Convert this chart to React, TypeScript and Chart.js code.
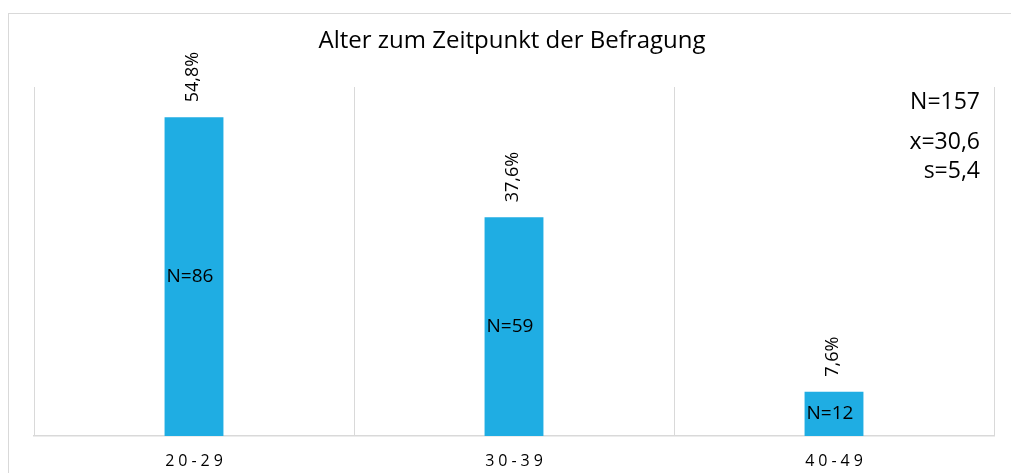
import React, { useEffect, useRef } from "react";
import { Chart, registerables } from "chart.js";

Chart.register(...registerables);

const categories = ["20-29", "30-39", "40-49"];
const percentages = [54.8, 37.6, 7.6];
const counts = [86, 59, 12];
const statsLines = ["N=157", "x=30,6", "s=5,4"];
const chartTitle = "Alter zum Zeitpunkt der Befragung";

const FONT = "'Open Sans', sans-serif";
const BAR_COLOR = "#1fade3";
const GRID_COLOR = "#d9d9d9";

const decorPlugin = {
  id: "decor",
  afterDraw(chart: any) {
    const ctx = chart.ctx as CanvasRenderingContext2D;
    const xScale = chart.scales.x;
    ctx.save();
    // outer border
    ctx.strokeStyle = GRID_COLOR;
    ctx.lineWidth = 1;
    ctx.strokeRect(0.5, 5.5, chart.width + 20, chart.height + 20);

    // title
    ctx.fillStyle = "#000";
    ctx.font = `24px ${FONT}`;
    ctx.textAlign = "center";
    ctx.textBaseline = "middle";
    ctx.fillText(chartTitle, 504, 33);

    // stats
    ctx.font = `23px ${FONT}`;
    ctx.textAlign = "right";
    const statY = [94, 134, 163];
    statsLines.forEach((s, i) => ctx.fillText(s, 972, statY[i]));

    // bar labels
    const meta = chart.getDatasetMeta(0);
    meta.data.forEach((bar: any, i: number) => {
      const x = bar.x;
      const top = bar.y;
      const bottom = bar.base;
      // rotated percent
      ctx.save();
      ctx.translate(x - 1, top - 15);
      ctx.rotate(-Math.PI / 2);
      ctx.font = `18px ${FONT}`;
      ctx.textAlign = "left";
      ctx.textBaseline = "middle";
      ctx.fillText(percentages[i].toFixed(1).replace(".", ",") + "%", 0, 0);
      ctx.restore();
      // count inside
      ctx.font = `19px ${FONT}`;
      ctx.textAlign = "center";
      ctx.textBaseline = "middle";
      ctx.fillText("N=" + counts[i], x - 4, (top + bottom) / 2);
    });

    // x tick labels with letter spacing
    ctx.font = `16px ${FONT}`;
    (ctx as any).letterSpacing = "4px";
    ctx.textAlign = "center";
    ctx.textBaseline = "middle";
    categories.forEach((c, i) => {
      ctx.fillText(c, xScale.getPixelForValue(i) + 2, 453);
    });
    (ctx as any).letterSpacing = "0px";
    ctx.restore();
  },
};

export default function App() {
  const ref = useRef<HTMLCanvasElement | null>(null);
  useEffect(() => {
    document.documentElement.style.overflow = "hidden";
    const chart = new Chart(ref.current as HTMLCanvasElement, {
      type: "bar",
      data: {
        labels: categories,
        datasets: [
          {
            data: percentages,
            backgroundColor: BAR_COLOR,
            categoryPercentage: 1,
            barPercentage: 0.184,
          },
        ],
      },
      options: {
        animation: false,
        responsive: true,
        maintainAspectRatio: false,
        layout: { padding: { left: 26, right: 25, top: 79, bottom: 37 } },
        plugins: {
          legend: { display: false },
          title: { display: false },
          tooltip: { enabled: false },
        },
        scales: {
          x: {
            display: true,
            offset: true,
            grid: {
              display: true,
              offset: true,
              color: GRID_COLOR,
              lineWidth: 1,
              drawTicks: false,
            },
            border: { display: true, color: GRID_COLOR, width: 1.5 },
            ticks: { display: false },
          },
          y: {
            display: false,
            min: 0,
            max: 60,
          },
        },
      },
      plugins: [decorPlugin],
    });
    return () => chart.destroy();
  }, []);
  return (
    <div style={{ width: 1011, height: 465, position: "relative" }}>
      <canvas ref={ref} />
    </div>
  );
}
